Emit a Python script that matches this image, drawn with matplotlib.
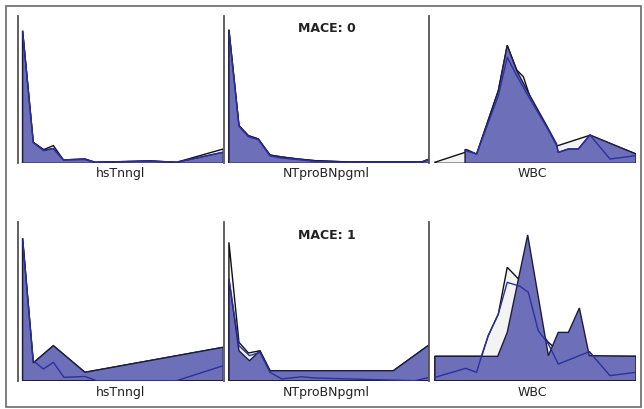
import matplotlib.pyplot as plt
from matplotlib.patches import Rectangle

groups = ['MACE: 0', 'MACE: 1']
variables = ['hsTnngl', 'NTproBNpgml', 'WBC']

# each curve: (x positions as % of the axis, height as % of the axis)
# MACE 0
m0_hs_gray_x = [2.1, 7.3, 12.4, 17.1, 22.0, 32.5, 37.4, 64.2, 77.2, 100]
m0_hs_gray_y = [89.8, 14.2, 9.3, 12.0, 2.3, 2.9, 0.7, 1.6, 0.7, 9.7]
m0_hs_fill_x = [2.1, 7.3, 12.4, 17.1, 22.0, 32.5, 37.4, 64.2, 77.2, 100]
m0_hs_fill_y = [89.8, 14.2, 9.0, 10.0, 2.3, 2.9, 0.7, 1.6, 0.7, 7.5]
m0_hs_line_x = [2.1, 7.3, 12.4, 17.1, 22.0, 32.5, 37.4, 64.2, 77.2, 100]
m0_hs_line_y = [89.0, 14.0, 8.5, 10.0, 2.3, 2.5, 0.7, 1.4, 0.7, 7.5]

m0_nt_gray_x = [2.4, 7.3, 11.9, 16.7, 22.4, 28.1, 36.2, 44.3, 60.6, 76.8, 96.3, 100]
m0_nt_gray_y = [90.5, 25.5, 18.7, 16.5, 5.6, 4.3, 2.9, 1.8, 0.9, 0.9, 0.9, 2.9]
m0_nt_fill_x = [2.4, 7.3, 11.9, 16.7, 22.4, 28.1, 36.2, 44.3, 60.6, 76.8, 96.3, 100]
m0_nt_fill_y = [90.5, 25.5, 18.7, 16.5, 5.6, 4.3, 2.9, 1.8, 0.9, 0.9, 0.9, 2.9]
m0_nt_line_x = [2.4, 7.3, 11.9, 16.7, 22.4, 28.1, 36.2, 44.3, 60.6, 76.8, 96.3, 100]
m0_nt_line_y = [89.0, 25.0, 18.0, 16.0, 5.0, 3.5, 2.5, 1.2, 0.5, 0.5, 0.5, 2.5]

m0_wbc_gray_x = [2.7, 17.3, 22.9, 33.4, 37.7, 42.3, 45.5, 48.7, 56.8, 61.6, 77.7, 100]
m0_wbc_gray_y = [0.7, 7.4, 6.3, 49.2, 79.9, 63.2, 58.7, 45.1, 24.8, 11.7, 19.0, 6.3]
m0_wbc_fill_x = [17.3, 18.1, 22.9, 33.4, 37.7, 42.3, 48.7, 56.8, 61.6, 62.4, 67.3, 72.1, 77.7, 100]
m0_wbc_fill_y = [9.3, 9.3, 6.3, 49.2, 79.9, 62.8, 45.8, 25.5, 13.1, 7.4, 9.7, 9.7, 19.2, 6.3]
m0_wbc_line_x = [17.3, 22.9, 33.4, 37.7, 42.3, 48.7, 56.8, 61.6, 62.4, 67.3, 72.1, 77.7, 87.4, 100]
m0_wbc_line_y = [8.6, 6.3, 45.8, 71.8, 59.4, 43.6, 24.4, 12.0, 7.4, 9.7, 9.7, 19.2, 2.9, 5.2]

# MACE 1
m1_hs_gray_x = [2.1, 7.3, 17.1, 32.5, 100]
m1_hs_gray_y = [89.9, 11.2, 22.1, 5.3, 21.1]
m1_hs_fill_x = [2.1, 7.3, 17.1, 32.5, 100]
m1_hs_fill_y = [89.9, 11.2, 22.1, 5.3, 21.1]
m1_hs_line_x = [2.1, 7.3, 12.2, 17.1, 22.3, 32.5, 38.2, 77.2, 100]
m1_hs_line_y = [88.4, 12.6, 7.4, 11.6, 2.1, 2.7, 0.0, 0.0, 9.5]

m1_nt_gray_x = [2.4, 7.3, 11.9, 17.5, 22.4, 82.5, 100]
m1_nt_gray_y = [87.4, 24.2, 17.5, 18.9, 6.3, 6.3, 22.7]
m1_nt_fill_x = [2.4, 7.3, 12.4, 17.5, 22.4, 82.5, 100]
m1_nt_fill_y = [64.2, 18.9, 12.6, 18.9, 6.3, 6.3, 22.7]
m1_nt_line_x = [2.4, 7.3, 12.4, 17.5, 22.4, 28.1, 37.8, 44.3, 93.0, 100]
m1_nt_line_y = [64.2, 22.1, 15.8, 17.9, 5.3, 1.1, 2.5, 1.7, 0.0, 2.1]

m1_wbc_gray_x = [2.7, 25.3, 28.5, 33.4, 37.7, 43.9, 52.7, 57.6, 62.4, 77.4, 79.4, 100]
m1_wbc_gray_y = [15.4, 15.4, 28.4, 42.1, 71.6, 63.2, 32.6, 24.2, 18.9, 18.3, 15.4, 15.4]
m1_wbc_fill_x = [2.7, 33.1, 37.7, 47.6, 57.6, 62.4, 67.3, 72.6, 77.4, 100]
m1_wbc_fill_y = [15.4, 15.4, 30.5, 92.0, 15.8, 30.5, 30.5, 45.9, 15.8, 15.4]
m1_wbc_line_x = [2.7, 17.6, 22.9, 25.3, 28.5, 33.4, 37.7, 43.9, 47.9, 52.7, 57.6, 62.4, 77.4, 87.4, 100]
m1_wbc_line_y = [2.1, 7.8, 5.3, 15.8, 28.4, 42.1, 62.1, 59.6, 55.8, 31.6, 23.2, 10.5, 18.3, 3.2, 5.3]

curves = [
    [(m0_hs_gray_x, m0_hs_gray_y, m0_hs_fill_x, m0_hs_fill_y, m0_hs_line_x, m0_hs_line_y),
     (m0_nt_gray_x, m0_nt_gray_y, m0_nt_fill_x, m0_nt_fill_y, m0_nt_line_x, m0_nt_line_y),
     (m0_wbc_gray_x, m0_wbc_gray_y, m0_wbc_fill_x, m0_wbc_fill_y, m0_wbc_line_x, m0_wbc_line_y)],
    [(m1_hs_gray_x, m1_hs_gray_y, m1_hs_fill_x, m1_hs_fill_y, m1_hs_line_x, m1_hs_line_y),
     (m1_nt_gray_x, m1_nt_gray_y, m1_nt_fill_x, m1_nt_fill_y, m1_nt_line_x, m1_nt_line_y),
     (m1_wbc_gray_x, m1_wbc_gray_y, m1_wbc_fill_x, m1_wbc_fill_y, m1_wbc_line_x, m1_wbc_line_y)],
]

fig = plt.figure(figsize=(6.44, 4.10), dpi=100)
fig.patches.append(Rectangle((6/644, 2/410), 635/644, 401/410, transform=fig.transFigure,
                             fill=False, edgecolor='#6a6a6a', lw=1.2))

lefts = [18.3/644, 224/644, 429.3/644]
widths = [205/644, 205.3/644, 206.7/644]
rows = [(1-164.3/410, 147.6/410), (1-381.7/410, 158.4/410)]
label_y = [-0.059, -0.071]
title_y = [0.917, 0.926]

def area(ax, xs, ys, face, edge):
    # closed polygon down to the baseline
    px = list(xs) + [xs[-1], xs[0]]
    py = list(ys) + [0, 0]
    ax.fill(px, py, facecolor=face, edgecolor=edge, lw=1.0, joinstyle='miter')

for r, (bottom, height) in enumerate(rows):
    for c, var in enumerate(variables):
        ax = fig.add_axes([lefts[c], bottom, widths[c], height])
        gx, gy, fx, fy, lx, ly = curves[r][c]
        area(ax, gx, gy, '#f3f3f3', '#111111')
        area(ax, fx, fy, '#6d70b9', '#1c1c3c')
        ax.plot(lx, ly, color='#2c2fa0', lw=1.0)
        ax.set_xlim(0, 100)
        ax.set_ylim(0, 100)
        ax.set_xticks([])
        ax.set_yticks([])
        for s in ['top', 'right', 'bottom']:
            ax.spines[s].set_visible(False)
        ax.spines['left'].set_color('#555555')
        ax.spines['left'].set_linewidth(1.3)
        ax.patch.set_alpha(0)
        ax.text(0.5, label_y[r], var, transform=ax.transAxes, ha='center', va='center',
                fontsize=9, color='#222222', clip_on=False)
        if c == 1:
            ax.text(0.5, title_y[r], groups[r], transform=ax.transAxes, ha='center',
                    va='center', fontsize=9, fontweight='bold', color='#222222')

fig.savefig('out.png', dpi=100)
